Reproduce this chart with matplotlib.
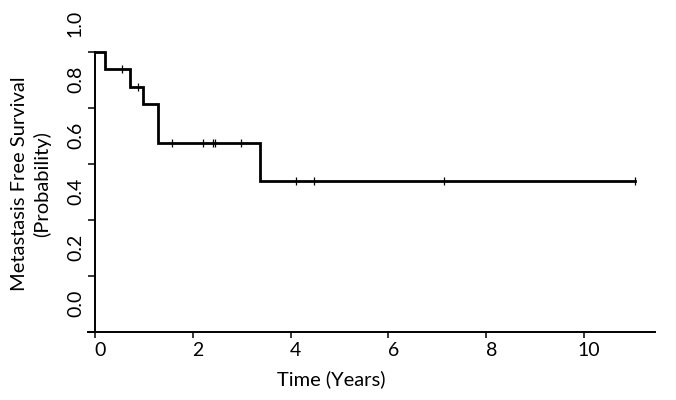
import numpy as np
import matplotlib
matplotlib.use("Agg")
import matplotlib.pyplot as plt
from matplotlib.transforms import ScaledTranslation

plt.rcParams['font.family'] = ['Lato', 'DejaVu Sans']

# Kaplan-Meier steps
step_times = [0.0, 0.20, 0.72, 0.99, 1.28, 3.37, 11.04]
step_surv = [1.0, 0.941, 0.876, 0.813, 0.676, 0.539, 0.539]
# censored observations (tick marks on the curve)
censor_times = [0.56, 0.87, 1.57, 2.20, 2.42, 2.46, 2.99, 4.10, 4.48, 7.14, 11.04]

x_ticks = [0, 2, 4, 6, 8, 10]
y_ticks = [0.0, 0.2, 0.4, 0.6, 0.8, 1.0]

W, H = 676, 400
fig = plt.figure(figsize=(W / 100, H / 100), dpi=100)
# axes box in pixels: left 88, right 655, bottom 332, top 52
ax = fig.add_axes([88 / W, 1 - 332 / H, (655 - 88) / W, (332 - 52) / H])
ax.set_xlim(-0.143, 11.45)
ax.set_ylim(0, 1)

ax.step(step_times, step_surv, where='post', color='black', lw=2.0,
        clip_on=False, solid_joinstyle='miter')

idx = np.searchsorted(step_times, censor_times, side='right') - 1
censor_surv = [step_surv[i] for i in idx]
ax.plot(censor_times, censor_surv, ls='none', marker='|', ms=6, mew=0.9,
        color='black', clip_on=False)

for s in ['top', 'right']:
    ax.spines[s].set_visible(False)
ax.spines['left'].set_position(('data', 0))
ax.spines['left'].set_bounds(0, 1)
ax.spines['left'].set_linewidth(1.4)
ax.spines['bottom'].set_linewidth(1.4)

ax.set_xticks(x_ticks)
ax.set_xticklabels([str(v) for v in x_ticks], fontsize=14)
ax.set_yticks(y_ticks)
ax.set_yticklabels(['%.1f' % v for v in y_ticks], fontsize=14, rotation=90,
                   va='center')
ax.tick_params(axis='x', length=4, width=1.1, pad=3)
ax.tick_params(axis='y', length=5, width=1.1, pad=3)

# labels in the original sit shifted from their ticks
for lab in ax.get_xticklabels():
    lab.set_transform(lab.get_transform() + ScaledTranslation(5 / 100, 0, fig.dpi_scale_trans))
for lab in ax.get_yticklabels():
    lab.set_transform(lab.get_transform() + ScaledTranslation(0, 29 / 100, fig.dpi_scale_trans))

fig.text(331 / W, 1 - 379 / H, 'Time (Years)', fontsize=14.5, ha='center', va='center')
fig.text(31 / W, 1 - 184 / H, 'Metastasis Free Survival\n(Probability)', fontsize=14.5,
         rotation=90, ha='center', va='center', multialignment='center',
         linespacing=1.3)

fig.savefig('out.png', dpi=100)
